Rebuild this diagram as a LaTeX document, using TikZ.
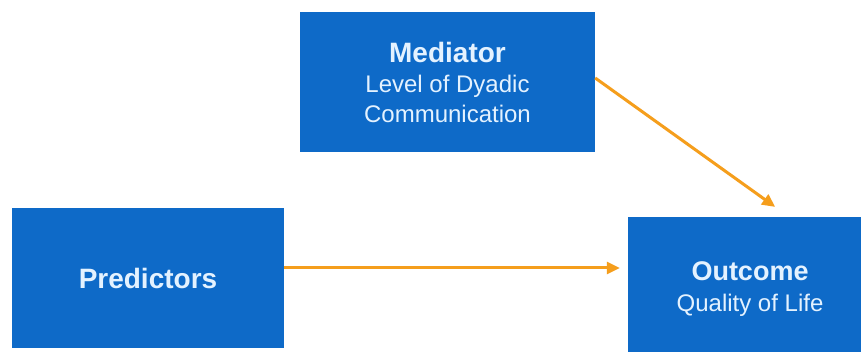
\documentclass[tikz,border=0pt]{standalone}
\usepackage{fontspec}
\setmainfont{Liberation Sans}
\usetikzlibrary{arrows.meta}
\definecolor{boxblue}{RGB}{14,106,200}
\definecolor{arrorange}{RGB}{245,158,28}
\definecolor{boxtext}{RGB}{228,242,255}
\begin{document}
\begin{tikzpicture}[x=1pt,y=-1pt,
  bluebox/.style={fill=boxblue, draw=none, text=boxtext, align=center, inner sep=0pt},
  link/.style={draw=arrorange, line width=3pt, -{Triangle[length=13pt,width=12pt]}}]
\clip (0,0) rectangle (861,352);
\fill[white] (0,0) rectangle (861,352);
\node[bluebox, minimum width=295pt, minimum height=140pt,
  font=\fontsize{24}{30}\selectfont] (med) at (447.5,82)
  {{\fontsize{28}{30}\selectfont\bfseries Mediator}\\Level of Dyadic\\Communication};
\node[bluebox, minimum width=272pt, minimum height=140pt,
  font=\fontsize{28}{30}\selectfont\bfseries] (pred) at (148,278) {Predictors};
\node[bluebox, minimum width=244pt, minimum height=144pt,
  font=\fontsize{24}{31}\selectfont] (out) at (750,289)
  {{\fontsize{27}{31}\selectfont\bfseries Outcome}\\Quality of Life};
\draw[link, shorten >=8pt] ([yshift=10pt]pred.east) -- ([yshift=21pt]out.west);
\draw[link, shorten >=17pt] ([yshift=4pt]med.east) -- ([xshift=39pt]out.north);
\end{tikzpicture}
\end{document}
